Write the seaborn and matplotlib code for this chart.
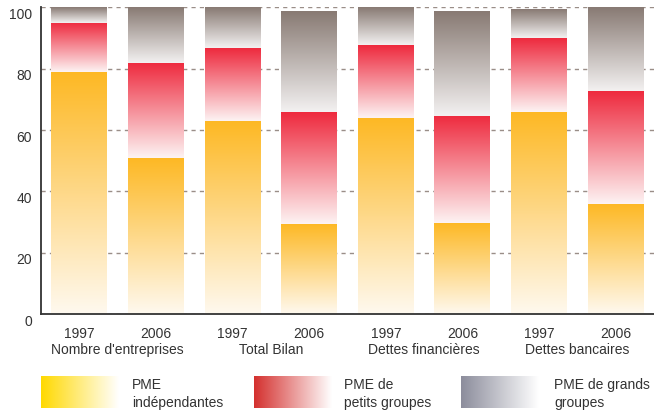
import numpy as np
import pandas as pd
import seaborn as sns
import matplotlib.pyplot as plt
from matplotlib.colors import LinearSegmentedColormap
from matplotlib.transforms import ScaledTranslation

# data
categories = ["Nombre d'entreprises", "Total Bilan", "Dettes financières", "Dettes bancaires"]
years = ["1997", "2006"]
independantes = [79, 51, 63, 29.5, 64, 29.7, 66, 36]
petits_groupes = [16, 31, 23.7, 36.4, 23.7, 34.9, 24.1, 36.8]
grands_groupes = [5, 18, 13.3, 32.6, 12.3, 33.9, 9.4, 27.2]
legend_labels = ["PME\nindépendantes", "PME de\npetits groupes", "PME de grands\ngroupes"]

bar_colors = [("#FFF9EF", "#FDB823"), ("#FDF3F3", "#EE2A3E"), ("#F3F1F1", "#887A73")]
legend_colors = ["#FFD900", "#D4302E", "#8C8D9C"]

sns.set_style("white")
plt.rcParams['font.family'] = ['Liberation Sans', 'DejaVu Sans']

keys = [f"{c} {y}" for c in categories for y in years]
df = pd.DataFrame({"key": keys, "ind": independantes,
                   "pet": petits_groupes, "gra": grands_groupes})
df["c1"] = df["ind"]
df["c2"] = df["ind"] + df["pet"]
df["c3"] = df["c2"] + df["gra"]

fig = plt.figure(figsize=(6.54, 4.17), dpi=100)
ax = fig.add_axes([0.0627, 0.2463, 0.9373, 0.7362])

bottoms = np.zeros(len(df))
for col, (light, dark) in zip(["c1", "c2", "c3"], bar_colors):
    n0 = len(ax.patches)
    sns.barplot(data=df, x="key", y=col, order=keys, width=0.73, color=dark,
                ax=ax, errorbar=None)
    cmap = LinearSegmentedColormap.from_list("g", [light, dark])
    grad = np.linspace(0, 1, 256).reshape(-1, 1)
    for i, p in enumerate(ax.patches[n0:]):
        p.set_visible(False)
        x0, w, top = p.get_x(), p.get_width(), p.get_height()
        ax.imshow(grad, extent=[x0, x0 + w, bottoms[i], top], origin="lower",
                  aspect="auto", cmap=cmap, zorder=2, interpolation="bilinear")
    bottoms = df[col].to_numpy()

ax.set_xlim(-0.5, 7.5)
ax.set_ylim(0, 100)
ax.set_xlabel("")
ax.set_ylabel("")

sns.despine(ax=ax, top=True, right=True)
for s in ["left", "bottom"]:
    ax.spines[s].set_color("#333333")
    ax.spines[s].set_linewidth(1.3)

ax.set_yticks([0, 20, 40, 60, 80, 100])
ax.tick_params(axis="y", direction="in", length=10, width=1.3, color="#333333",
               labelsize=10, labelcolor="#333333", pad=6.5)
off = ScaledTranslation(0, -0.06, fig.dpi_scale_trans)
for lab in ax.get_yticklabels():
    lab.set_transform(lab.get_transform() + off)

ax.set_xticks(range(len(keys)))
ax.set_xticklabels(years * len(categories))
ax.set_xticks(np.arange(0.5, len(keys) - 1, 1.0), minor=True)
ax.tick_params(axis="x", which="major", length=0, labelsize=10,
               labelcolor="#333333", pad=9)
ax.tick_params(axis="x", which="minor", direction="in", length=7, width=1.2,
               color="#333333")

ax.yaxis.grid(True, linestyle=(0, (3, 3)), color="#9A8E88", linewidth=1)
ax.set_axisbelow(True)

for i, c in enumerate(categories):
    ax.annotate(c, xy=(2 * i + 0.5, 0), xycoords=("data", "axes fraction"),
                xytext=(0, -39.5), textcoords="offset pixels", ha="center",
                va="baseline", fontsize=10, color="#333333")

# legend: horizontal gradient swatches
swatch_x = [41, 254, 461]
text_x = [132, 344, 554]
for sx, tx, col, lab in zip(swatch_x, text_x, legend_colors, legend_labels):
    lax = fig.add_axes([sx / 654, 1 - 408 / 417, 78 / 654, 32 / 417])
    cmap = LinearSegmentedColormap.from_list("l", [col, "#FFFFFF"])
    lax.imshow(np.linspace(0, 1, 256).reshape(1, -1), aspect="auto", cmap=cmap,
               interpolation="bilinear")
    lax.axis("off")
    fig.text(tx / 654, 1 - 394 / 417, lab, ha="left", va="center", fontsize=10,
             color="#333333", linespacing=1.38)

fig.savefig("out.png", dpi=100)
